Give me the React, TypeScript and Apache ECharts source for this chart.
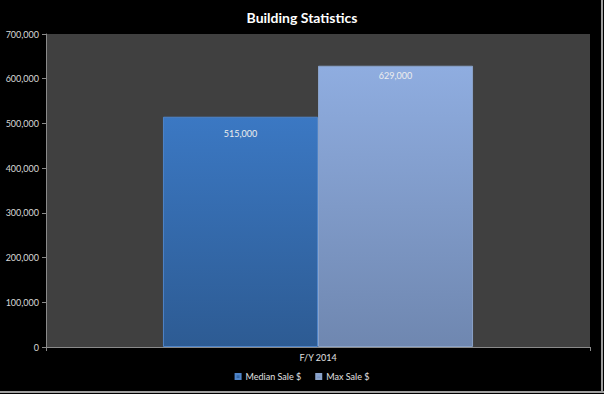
import React, { useEffect, useRef } from "react";
import * as echarts from "echarts";

const categories = ["F/Y 2014"];
const medianSale = [515000];
const maxSale = [629000];
const seriesNames = ["Median Sale $", "Max Sale $"];

const FONT = "Lato, 'Open Sans', sans-serif";

export default function App() {
  const ref = useRef<HTMLDivElement>(null);
  useEffect(() => {
    if (!ref.current) return;
    const chart = echarts.init(ref.current, undefined, { renderer: "svg" });
    const grad = (a: string, b: string) =>
      new echarts.graphic.LinearGradient(0, 0, 0, 1, [
        { offset: 0, color: a },
        { offset: 1, color: b },
      ]);
    const fmt = (v: number) => v.toLocaleString("en-US");
    chart.setOption({
      animation: false,
      backgroundColor: "#000000",
      title: {
        text: "Building Statistics",
        left: "center",
        top: 5,
        textStyle: { color: "#ffffff", fontSize: 14, fontWeight: "bold", fontFamily: FONT },
      },
      legend: {
        bottom: 8,
        left: "center",
        itemWidth: 5,
        itemHeight: 5,
        itemGap: 14,
        icon: "rect",
        textStyle: { color: "#e0e0e0", fontSize: 9, fontFamily: FONT, padding: [0, 0, 0, 0] },
        data: seriesNames,
      },
      grid: { left: 46, right: 14, top: 34, bottom: 47, backgroundColor: "#404040", show: true, borderWidth: 0 },
      xAxis: {
        type: "category",
        data: categories,
        axisLine: { lineStyle: { color: "#8a8a8a" } },
        axisTick: { show: true, length: 4, lineStyle: { color: "#8a8a8a" } },
        axisLabel: { color: "#e0e0e0", fontSize: 9, fontFamily: FONT, margin: 6 },
      },
      yAxis: {
        type: "value",
        min: 0,
        max: 700000,
        interval: 100000,
        axisLine: { show: true, lineStyle: { color: "#8a8a8a" } },
        axisTick: { show: true, length: 4, lineStyle: { color: "#8a8a8a" } },
        splitLine: { show: false },
        axisLabel: { color: "#d8d8d8", fontSize: 9, fontFamily: FONT, margin: 7, formatter: (v: number) => fmt(v) },
      },
      series: [
        {
          name: seriesNames[0],
          type: "bar",
          data: medianSale,
          barGap: "0%",
          barCategoryGap: "43%",
          itemStyle: { color: grad("#3b78c3", "#2d5b93"), borderColor: "#4f84c8", borderWidth: 1 },
          label: {
            show: true,
            position: "insideTop",
            distance: 12,
            color: "#eeeeee",
            fontSize: 9,
            fontFamily: FONT,
            formatter: (p: any) => fmt(p.value),
          },
        },
        {
          name: seriesNames[1],
          type: "bar",
          data: maxSale,
          itemStyle: { color: grad("#8fade0", "#6f87b0"), borderColor: "#8aa2c8", borderWidth: 1 },
          label: {
            show: true,
            position: "insideTop",
            distance: 5,
            color: "#eeeeee",
            fontSize: 9,
            fontFamily: FONT,
            formatter: (p: any) => fmt(p.value),
          },
        },
      ],
      graphic: [
        { type: "line", shape: { x1: 602, y1: 0, x2: 602, y2: 393 }, style: { stroke: "#a0a0a0", lineWidth: 2 } },
        { type: "line", shape: { x1: 0, y1: 392, x2: 604, y2: 392 }, style: { stroke: "#a0a0a0", lineWidth: 2 } },
      ],
    });
    return () => chart.dispose();
  }, []);
  return (
    <div
      ref={ref}
      style={{ position: "absolute", left: 0, top: 0, width: 604, height: 394 }}
    />
  );
}
